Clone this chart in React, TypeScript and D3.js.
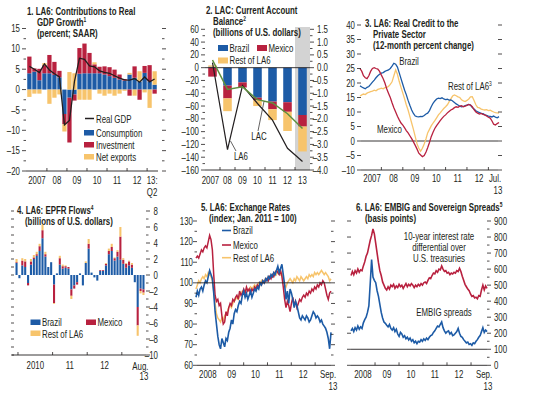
import React from "react";
import * as d3 from "d3";

const FONT = "'Liberation Sans',Arial,'DejaVu Sans',sans-serif";
const SX = 0.75;
const BLUE = "#1d5ba6";
const RED = "#b8213f";
const YELLOW = "#f7c46c";
const GREEN = "#5e8f3e";
const INK = "#231f20";
const SHADE = "#d3d3d3";

// ---------------- Panel 1 data ----------------
const p1Quarters = ["2007Q1","2007Q2","2007Q3","2007Q4","2008Q1","2008Q2","2008Q3","2008Q4","2009Q1","2009Q2","2009Q3","2009Q4","2010Q1","2010Q2","2010Q3","2010Q4","2011Q1","2011Q2","2011Q3","2011Q4","2012Q1","2012Q2","2012Q3","2012Q4","2013Q1","2013Q2"];
const p1Consumption = [4.0, 4.4, 2.3, 4.0, 4.0, 3.6, 3.0, -6.0, -2.0, -1.2, 3.9, 4.0, 4.0, 4.0, 4.0, 3.7, 3.3, 2.9, 2.5, 2.2, 3.7, 2.9, 2.0, 4.1, 2.0, 1.2];
const p1Investment = [4.1, 0.8, 2.8, 2.0, 4.5, 3.2, 1.6, -2.5, -11.0, -1.5, 6.3, 7.3, 5.0, 2.2, 1.6, 2.0, 2.2, 2.0, 1.2, 0.4, -1.5, 2.8, -2.5, 1.7, 4.0, -1.0];
const p1NetExports = [-1.8, -1.0, -1.0, 0.5, -3.5, -2.0, -1.2, -1.8, 4.3, 4.0, -2.5, -2.5, -2.5, 0.5, -1.0, -1.5, -1.0, -1.5, -1.0, -0.3, 0.4, -1.5, 2.5, -0.7, -4.5, 3.3];
const p1RealGDP = [5.7, 5.0, 4.2, 6.3, 4.8, 3.9, 3.1, -8.7, -7.6, 2.0, 7.7, 7.4, 5.8, 5.6, 4.6, 4.2, 4.0, 3.4, 2.8, 2.4, 2.3, 2.7, 1.8, 3.1, 1.9, 2.6];
const p1YearLabels = ["2007", "08", "09", "10", "11", "12", "13:"];

// ---------------- Panel 2 data ----------------
const p2Years = ["2007", "08", "09", "10", "11", "12", "13"];
const p2Brazil = [1.5, -28, -23, -47, -53, -54, -74];
const p2Mexico = [-14, -20, -8, -4, -12, -15, -18];
const p2Rest = [2, -20, 1, -9, -17, -30, -39];
const p2LA6 = [0.2, -3.2, -0.7, -1.4, -2.05, -3.15, -3.67];
const p2LAC = [0.3, -0.85, -0.75, -1.25, -1.38, -1.8, -2.38];

// ---------------- Panel 3 data (monthly, Jan 2007 - Jul 2013) ----------------
const p3Brazil = [19.0, 18.6, 18.3, 18.0, 18.5, 18.8, 19.5, 20.3, 21.0, 21.8, 22.5, 23.0, 23.4, 23.6, 24.0, 24.3, 24.5, 25.0, 25.8, 26.8, 26.5, 25.5, 23.5, 21.5, 19.5, 17.5, 16.0, 14.0, 12.3, 10.7, 9.5, 8.6, 8.4, 8.3, 8.5, 8.4, 8.8, 9.3, 9.6, 10.5, 11.8, 13.0, 13.8, 14.5, 14.8, 14.6, 14.9, 14.5, 14.3, 14.4, 14.1, 14.2, 13.8, 13.3, 12.8, 12.4, 12.0, 11.8, 11.9, 12.2, 12.4, 12.6, 12.4, 11.5, 11.0, 10.4, 10.1, 9.8, 9.5, 9.4, 9.0, 8.8, 8.6, 8.5, 8.3, 8.6, 8.2, 8.0, 8.4];
const p3Mexico = [25.0, 24.0, 22.5, 21.8, 21.5, 22.5, 24.0, 25.0, 25.3, 25.0, 24.8, 24.0, 22.7, 21.5, 20.0, 18.0, 16.5, 15.0, 13.2, 11.5, 10.0, 8.5, 7.3, 6.2, 5.5, 4.5, 3.6, 2.8, 1.8, 0.8, -0.3, -1.5, -2.8, -4.2, -4.8, -5.4, -5.0, -3.8, -2.3, -0.5, 1.5, 3.0, 4.3, 5.3, 6.2, 7.0, 7.8, 8.5, 9.0, 9.7, 10.2, 10.7, 11.0, 11.5, 11.8, 11.6, 12.0, 12.2, 11.8, 12.0, 12.3, 12.6, 12.4, 11.8, 10.8, 10.0, 9.6, 9.3, 9.5, 9.2, 9.0, 8.6, 8.2, 7.9, 7.0, 5.8, 5.5, 6.0, 6.4];
const p3Rest = [15.5, 15.9, 16.2, 16.0, 16.5, 16.8, 17.0, 17.2, 17.5, 17.3, 17.8, 18.0, 18.2, 18.0, 18.4, 18.5, 18.8, 19.5, 20.4, 22.5, 24.5, 23.0, 20.5, 18.5, 16.5, 14.5, 12.5, 10.7, 8.5, 6.2, 4.0, 1.5, -1.0, -2.5, -3.5, -2.5, -1.0, 0.8, 2.8, 4.0, 5.2, 6.2, 7.0, 8.0, 9.0, 9.7, 10.5, 11.2, 11.8, 12.5, 13.5, 14.5, 15.5, 15.9, 15.6, 15.2, 15.0, 14.2, 13.8, 13.6, 14.0, 14.5, 15.2, 15.3, 14.0, 12.5, 11.6, 11.4, 11.0, 10.8, 10.7, 10.8, 10.5, 10.6, 10.3, 10.0, 9.8, 9.7, 9.6];
const p3YearLabels = ["2007", "08", "09", "10", "11", "12"];

// ---------------- Panel 4 data (monthly, Dec 2009 - Aug 2013) ----------------
const p4Brazil = [1.5, -0.4, 1.2, 1.0, -1.0, 1.3, 2.0, 2.4, 3.0, 4.6, 2.3, 1.0, 1.6, -1.2, 0.2, 1.3, 0.8, 0.9, 0.8, -1.8, -1.3, -0.9, 0.2, -1.3, 1.5, 3.3, 0.3, -0.3, -0.7, 0.5, 0.5, 1.2, 2.6, 3.0, 1.8, 2.3, 1.9, 1.4, 0.9, 1.2, 0.9, -0.9, -4.0, -1.7, -1.8];
const p4Mexico = [0.1, 0, 0.6, 0.7, -0.3, 0.4, 0.2, 0.2, 0.6, 1.0, 0.3, 0, 0, -2.3, 0, 0.8, 0.3, 0.2, 0.2, -0.8, -0.4, -0.3, 0, 0, 0, 0.6, 0, 0, 0, 0.1, 0.1, 0.2, 0.4, 0.5, 0.3, 0.6, 2.9, 0.5, 0.5, 0.5, 0.4, 0, -2.3, -0.3, -0.4];
const p4Rest = [0.4, 0, 0.3, 0.3, 0, 0.3, 0.3, 0.3, 0.3, 0.7, 0.3, 0, 0, -0.1, 0, 0.3, 0.2, 0.1, 0, -0.4, 0, 0, 0, 0, 0.2, 0.6, 0, 0, 0, 0, 0, 0.1, 0.3, 0.4, 0.1, 0.2, 1.2, 0.2, 0.1, 0.1, 0.2, 0, -1.3, -0.3, -0.3];
const p4Months = ["2009-12","2010-01","2010-02","2010-03","2010-04","2010-05","2010-06","2010-07","2010-08","2010-09","2010-10","2010-11","2010-12","2011-01","2011-02","2011-03","2011-04","2011-05","2011-06","2011-07","2011-08","2011-09","2011-10","2011-11","2011-12","2012-01","2012-02","2012-03","2012-04","2012-05","2012-06","2012-07","2012-08","2012-09","2012-10","2012-11","2012-12","2013-01","2013-02","2013-03","2013-04","2013-05","2013-06","2013-07","2013-08"];

// ---------------- Panel 5 data (Jan 2008 - Sep 2013, 100 obs) ----------------
const p5Brazil = [93, 96, 94, 97, 98, 96, 99, 101, 100, 103, 106, 104, 102, 95, 86, 80, 74, 70, 68, 73, 71, 69, 73, 72, 76, 78, 82, 80, 85, 87, 86, 89, 91, 90, 94, 96, 93, 95, 92, 94, 96, 93, 95, 97, 96, 98, 97, 100, 99, 101, 100, 102, 101, 103, 102, 104, 103, 105, 104, 106, 108, 105, 107, 109, 104, 99, 92, 96, 90, 97, 95, 92, 88, 91, 89, 86, 83, 82, 84, 83, 82, 84, 83, 81, 82, 84, 86, 85, 83, 84, 83, 81, 82, 80, 79, 78, 76, 73, 68, 76];
const p5Mexico = [112, 113, 112, 114, 116, 115, 117, 118, 117, 120, 123, 121, 116, 104, 94, 91, 92, 89, 90, 84, 80, 81, 86, 84, 88, 90, 89, 92, 91, 93, 94, 92, 96, 94, 95, 97, 95, 98, 96, 97, 95, 97, 96, 98, 97, 99, 98, 100, 99, 101, 100, 101, 102, 101, 103, 102, 104, 103, 105, 106, 105, 104, 106, 103, 98, 92, 88, 91, 89, 86, 90, 93, 89, 91, 88, 90, 92, 91, 93, 94, 93, 95, 94, 96, 95, 97, 96, 98, 97, 99, 98, 100, 99, 101, 100, 97, 94, 92, 95, 96];
const p5Rest = [97, 99, 101, 100, 102, 103, 102, 104, 103, 105, 104, 103, 101, 96, 90, 85, 83, 82, 81, 83, 82, 84, 85, 86, 88, 89, 88, 90, 91, 92, 93, 92, 94, 95, 96, 96, 95, 97, 96, 97, 98, 97, 98, 99, 98, 99, 100, 99, 101, 100, 101, 102, 101, 103, 102, 103, 104, 103, 105, 104, 106, 105, 104, 105, 101, 99, 98, 100, 101, 102, 101, 100, 102, 101, 103, 102, 101, 103, 102, 101, 102, 103, 102, 104, 103, 104, 103, 105, 104, 105, 104, 105, 106, 105, 104, 105, 104, 103, 101, 102];
const p5YearLabels = ["2008", "09", "10", "11", "12"];

// ---------------- Panel 6 data (Jan 2008 - Sep 2013, 100 obs) ----------------
const p6Differential = [560, 585, 565, 590, 575, 600, 580, 595, 590, 620, 645, 680, 700, 740, 780, 810, 850, 820, 760, 700, 640, 590, 560, 520, 500, 480, 470, 490, 475, 500, 490, 505, 480, 495, 485, 505, 490, 500, 480, 495, 510, 490, 505, 495, 510, 500, 485, 500, 490, 505, 495, 510, 500, 515, 520, 510, 530, 545, 540, 560, 575, 570, 590, 580, 600, 595, 620, 600, 585, 590, 575, 580, 565, 575, 570, 580, 575, 590, 585, 605, 585, 555, 530, 505, 490, 475, 465, 445, 430, 435, 420, 425, 415, 435, 430, 470, 500, 470, 495, 480];
const p6EMBIG = [215, 230, 210, 235, 220, 245, 225, 240, 230, 265, 285, 300, 330, 370, 510, 660, 550, 530, 515, 465, 430, 380, 330, 295, 270, 262, 250, 240, 255, 230, 220, 235, 210, 225, 195, 180, 205, 195, 175, 185, 165, 175, 158, 170, 150, 160, 140, 150, 135, 150, 145, 160, 150, 165, 155, 170, 160, 175, 185, 190, 205, 215, 230, 245, 240, 255, 270, 235, 215, 200, 210, 215, 195, 205, 185, 190, 200, 210, 230, 200, 180, 175, 160, 150, 140, 145, 130, 135, 125, 140, 135, 150, 160, 175, 185, 210, 235, 205, 220, 210];
const p6YearLabels = ["2008", "09", "10", "11", "12"];

const fmt = (v: number, digits = 0) => (v < 0 ? "\u2013" : "") + Math.abs(v).toFixed(digits);

function evenDates(n: number, a: Date, b: Date) {
  return d3.range(n).map((i) => new Date(a.getTime() + ((b.getTime() - a.getTime()) * i) / (n - 1)));
}

// condensed text: regular sans compressed horizontally
function Txt({ x, y, anchor = "start", size = 10.5, weight = "normal", children }: any) {
  return (
    <text
      transform={`translate(${x},${y}) scale(${SX},1)`}
      textAnchor={anchor}
      fontSize={size}
      fontWeight={weight}
      fill={INK}
    >
      {children}
    </text>
  );
}

function Sup({ children }: any) {
  return (
    <tspan dy={-4} fontSize={6.5}>
      {children}
    </tspan>
  );
}

function YTicks({ scale, values, x, len, side, sw = 0.8 }: any) {
  return (
    <g>
      {values.map((v: number, i: number) => (
        <line key={i} x1={x} x2={side === "L" ? x - len : x + len} y1={scale(v)} y2={scale(v)} stroke={INK} strokeWidth={sw} />
      ))}
    </g>
  );
}

function YLabels({ scale, values, x, anchor, digits = 0 }: any) {
  return (
    <g>
      {values.map((v: number, i: number) => (
        <Txt key={i} x={x} y={scale(v) + 3.6} anchor={anchor} size={10.5}>
          {fmt(v, digits)}
        </Txt>
      ))}
    </g>
  );
}

function Title({ x, y, lines }: any) {
  return (
    <g>
      {lines.map((l: any, i: number) => (
        <Txt key={i} x={x + (l.dx || 0)} y={y + i * 11} size={10.5} weight="bold">
          {l.t}
          {l.sup ? <Sup>{l.sup}</Sup> : null}
        </Txt>
      ))}
    </g>
  );
}

function XLab({ x, y, children }: any) {
  return (
    <Txt x={x} y={y} anchor="middle" size={10.5}>
      {children}
    </Txt>
  );
}

// ---------------- Panel 1 ----------------
function Panel1() {
  const x = d3.scaleBand().domain(p1Quarters).range([27, 157]).paddingInner(0.15).paddingOuter(0.05);
  const y = d3.scaleLinear().domain([-20, 15]).range([171, 28.5]);
  const rows = p1Quarters.map((q, i) => ({ q, C: p1Consumption[i], I: p1Investment[i], N: p1NetExports[i] }));
  const series = d3.stack<any>().keys(["C", "I", "N"]).offset(d3.stackOffsetDiverging)(rows);
  const colors: any = { C: BLUE, I: RED, N: YELLOW };
  const bw = x.bandwidth();
  const gdpLine = d3
    .line<number>()
    .x((d, i) => (x(p1Quarters[i]) as number) + bw / 2)
    .y((d) => y(d));
  const step = x.step();
  const years = p1YearLabels.map((lab, k) => {
    const a = 4 * k;
    const b = Math.min(4 * k + 3, p1Quarters.length - 1);
    return { lab, cx: ((x(p1Quarters[a]) as number) + (x(p1Quarters[b]) as number) + bw) / 2, x0: (x(p1Quarters[a]) as number) - step * 0.075 };
  });
  const majors = d3.range(-20, 16, 5);
  const minors = d3.range(-17.5, 15, 5);
  return (
    <g>
      <Title x={27} y={15} lines={[{ t: "1. LA6: Contributions to Real" }, { t: "GDP Growth", sup: "1", dx: 10 }, { t: "(percent; SAAR)", dx: 10 }]} />
      {series.map((s: any) => (
        <g key={s.key} fill={colors[s.key]}>
          {s.map((d: any, i: number) => (
            <rect key={i} x={x(d.data.q)} width={bw} y={y(Math.max(d[0], d[1]))} height={Math.abs(y(d[0]) - y(d[1]))} />
          ))}
        </g>
      ))}
      <path d={gdpLine(p1RealGDP) as string} fill="none" stroke={INK} strokeWidth={1.3} />
      <YTicks scale={y} values={majors} x={26} len={4} side="L" />
      <YTicks scale={y} values={minors} x={26} len={2.5} side="L" />
      <YTicks scale={y} values={majors} x={162} len={4} side="R" />
      <YTicks scale={y} values={minors} x={162} len={2.5} side="R" />
      <YLabels scale={y} values={majors} x={20} anchor="end" />
      <line x1={26} x2={158} y1={y(-20)} y2={y(-20)} stroke={INK} strokeWidth={0.9} />
      {years.slice(1).map((yy, i) => (
        <line key={i} x1={yy.x0} x2={yy.x0} y1={y(-20)} y2={y(-20) - 3} stroke={INK} strokeWidth={0.8} />
      ))}
      {years.map((yy, i) => (
        <XLab key={i} x={yy.cx} y={183.5}>
          {yy.lab}
        </XLab>
      ))}
      <XLab x={years[6].cx} y={196}>Q2</XLab>
      <line x1={85} x2={94} y1={118.5} y2={118.5} stroke={INK} strokeWidth={1.5} />
      <Txt x={96} y={122.5}>Real GDP</Txt>
      <rect x={84} y={130} width={10} height={5.5} fill={BLUE} />
      <Txt x={96} y={136.5}>Consumption</Txt>
      <rect x={84} y={142} width={10} height={5.5} fill={RED} />
      <Txt x={96} y={148.5}>Investment</Txt>
      <rect x={84} y={154} width={10} height={5.5} fill={YELLOW} />
      <Txt x={96} y={160.5}>Net exports</Txt>
    </g>
  );
}

// ---------------- Panel 2 ----------------
function Panel2() {
  const x = d3.scaleBand().domain(p2Years).range([205, 310]).paddingInner(0.43).paddingOuter(0.215);
  const yL = d3.scaleLinear().domain([-160, 60]).range([170, 29.3]);
  const yR = d3.scaleLinear().domain([-4, 1.5]).range([170, 29.3]);
  const rows = p2Years.map((yr, i) => ({ yr, B: p2Brazil[i], M: p2Mexico[i], R: p2Rest[i] }));
  const series = d3.stack<any>().keys(["B", "M", "R"]).offset(d3.stackOffsetDiverging)(rows);
  const colors: any = { B: BLUE, M: RED, R: YELLOW };
  const bw = x.bandwidth();
  const step = x.step();
  const cx = (yr: string) => (x(yr) as number) + bw / 2;
  const ln = d3
    .line<number>()
    .x((d, i) => cx(p2Years[i]))
    .y((d) => yR(d));
  const lastStart = cx(p2Years[6]) - step / 2;
  return (
    <g>
      <rect x={lastStart} y={27} width={310 - lastStart} height={170 - 27} fill={SHADE} />
      <Title x={206} y={13.5} lines={[{ t: "2. LAC: Current Account" }, { t: "Balance", sup: "2", dx: 7 }, { t: "(billions of U.S. dollars)", dx: 7 }]} />
      <rect x={218} y={45} width={10} height={6} fill={BLUE} />
      <Txt x={229.5} y={51.5}>Brazil</Txt>
      <rect x={257} y={45} width={10} height={6} fill={RED} />
      <Txt x={268.5} y={51.5}>Mexico</Txt>
      <rect x={218} y={57.5} width={10} height={6} fill={YELLOW} />
      <Txt x={229.5} y={63.5}>Rest of LA6</Txt>
      {series.map((s: any) => (
        <g key={s.key} fill={colors[s.key]}>
          {s.map((d: any, i: number) => (
            <rect key={i} x={x(d.data.yr)} width={bw} y={yL(Math.max(d[0], d[1]))} height={Math.abs(yL(d[0]) - yL(d[1]))} />
          ))}
        </g>
      ))}
      <line x1={205} x2={310} y1={yL(0)} y2={yL(0)} stroke={INK} strokeWidth={0.9} />
      <path d={ln(p2LA6) as string} fill="none" stroke={INK} strokeWidth={1.2} />
      <path d={ln(p2LAC) as string} fill="none" stroke={GREEN} strokeWidth={1.5} />
      <YTicks scale={yL} values={d3.range(-160, 61, 20)} x={205} len={4} side="L" />
      <YTicks scale={yL} values={d3.range(-150, 60, 20)} x={205} len={2.5} side="L" />
      <YLabels scale={yL} values={d3.range(-160, 61, 20)} x={199} anchor="end" />
      <YTicks scale={yR} values={d3.range(-4, 1.51, 0.5)} x={310} len={4} side="R" />
      <YTicks scale={yR} values={d3.range(-3.75, 1.5, 0.5)} x={310} len={2.5} side="R" />
      <YLabels scale={yR} values={d3.range(-4, 1.51, 0.5)} x={328} anchor="end" digits={1} />
      <line x1={205} x2={310} y1={170} y2={170} stroke={INK} strokeWidth={0.9} />
      {p2Years.slice(1).map((yr, i) => (
        <line key={i} x1={cx(yr) - step / 2} x2={cx(yr) - step / 2} y1={170} y2={167} stroke={INK} strokeWidth={0.8} />
      ))}
      {p2Years.map((yr, i) => (
        <XLab key={i} x={cx(yr) - (i === 0 ? 2 : 0)} y={183.5}>
          {yr}
        </XLab>
      ))}
      <line x1={258} x2={264} y1={131} y2={yR(-1.32)} stroke={INK} strokeWidth={0.7} />
      <Txt x={259} y={139.5} anchor="middle">LAC</Txt>
      <line x1={236} x2={230.5} y1={151} y2={141} stroke={INK} strokeWidth={0.7} />
      <Txt x={241} y={160} anchor="middle">LA6</Txt>
    </g>
  );
}

// ---------------- Panel 3 ----------------
function Panel3() {
  const start = new Date(2007, 0, 1);
  const end = new Date(2013, 6, 1);
  const x = d3.scaleTime().domain([start, end]).range([360, 499]);
  const y = d3.scaleLinear().domain([-10, 40]).range([170, 25]);
  const dates = p3Brazil.map((_, i) => new Date(2007, i, 1));
  const ln = d3
    .line<number>()
    .x((d, i) => x(dates[i]))
    .y((d) => y(d));
  const majors = d3.range(-10, 41, 5);
  return (
    <g>
      <line x1={361} x2={498} y1={y(0)} y2={y(0)} stroke={INK} strokeWidth={0.9} />
      <path d={ln(p3Rest) as string} fill="none" stroke={YELLOW} strokeWidth={1.3} />
      <path d={ln(p3Brazil) as string} fill="none" stroke={BLUE} strokeWidth={1.3} />
      <path d={ln(p3Mexico) as string} fill="none" stroke={RED} strokeWidth={1.3} />
      <Title x={365} y={26.5} lines={[{ t: "3. LA6: Real Credit to the" }, { t: "Private Sector", dx: 8 }, { t: "(12-month percent change)", dx: 8 }]} />
      <YTicks scale={y} values={majors} x={361} len={4} side="L" />
      <YTicks scale={y} values={majors} x={498} len={4} side="R" />
      <YLabels scale={y} values={majors} x={355} anchor="end" />
      <line x1={361} x2={498} y1={170} y2={170} stroke={INK} strokeWidth={0.9} />
      {d3.range(2008, 2014).map((yr) => (
        <line key={yr} x1={x(new Date(yr, 0, 1))} x2={x(new Date(yr, 0, 1))} y1={170} y2={167} stroke={INK} strokeWidth={0.8} />
      ))}
      {p3YearLabels.map((lab, i) => (
        <XLab key={i} x={x(new Date(2007 + i, 6, 1)) + 1.5} y={182}>
          {lab}
        </XLab>
      ))}
      <XLab x={x(end) - 4} y={182}>Jul.</XLab>
      <XLab x={x(end) - 1} y={193.5}>13</XLab>
      <Txt x={409} y={64.5} anchor="middle">Brazil</Txt>
      <Txt x={448} y={89.5}>
        Rest of LA6<Sup>3</Sup>
      </Txt>
      <Txt x={377} y={133}>Mexico</Txt>
    </g>
  );
}

// ---------------- Panel 4 ----------------
function Panel4() {
  const x = d3.scaleBand().domain(p4Months).range([15.5, 144.5]).paddingInner(0.28);
  const y = d3.scaleLinear().domain([-10, 8]).range([355, 211]);
  const rows = p4Months.map((m, i) => ({ m, B: p4Brazil[i], M: p4Mexico[i], R: p4Rest[i] }));
  const series = d3.stack<any>().keys(["B", "M", "R"]).offset(d3.stackOffsetDiverging)(rows);
  const colors: any = { B: BLUE, M: RED, R: YELLOW };
  const bw = x.bandwidth();
  const step = x.step();
  const cx = (m: string) => (x(m) as number) + bw / 2;
  const yearCenter = (yr: number) => (cx(`${yr}-01`) + cx(`${yr}-12`)) / 2;
  const last = p4Months[p4Months.length - 1];
  return (
    <g>
      <Title x={17} y={214} lines={[{ t: "4. LA6: EPFR Flows", sup: "4" }, { t: "(billions of U.S. dollars)", dx: 8 }]} />
      {series.map((s: any) => (
        <g key={s.key} fill={colors[s.key]}>
          {s.map((d: any, i: number) => (
            <rect key={i} x={x(d.data.m)} width={bw} y={y(Math.max(d[0], d[1]))} height={Math.abs(y(d[0]) - y(d[1]))} />
          ))}
        </g>
      ))}
      <YTicks scale={y} values={d3.range(-10, 9, 1)} x={14} len={3} side="L" />
      <YTicks scale={y} values={d3.range(-10, 9, 2)} x={146} len={4} side="R" />
      <YTicks scale={y} values={d3.range(-9, 8, 2)} x={146} len={2.5} side="R" />
      <YLabels scale={y} values={d3.range(-10, 9, 2)} x={158} anchor="end" />
      <line x1={12} x2={146} y1={355} y2={355} stroke={INK} strokeWidth={0.9} />
      {[2010, 2011, 2012, 2013].map((yr) => (
        <line key={yr} x1={cx(`${yr}-01`) - step / 2} x2={cx(`${yr}-01`) - step / 2} y1={355} y2={352} stroke={INK} strokeWidth={0.8} />
      ))}
      {[2010, 2011, 2012].map((yr, i) => (
        <XLab key={yr} x={yearCenter(yr)} y={368.5}>
          {i === 0 ? "2010" : String(yr).slice(2)}
        </XLab>
      ))}
      <XLab x={cx(last) - 3} y={369.5}>Aug.</XLab>
      <XLab x={cx(last) + 0.5} y={380}>13</XLab>
      <rect x={30.5} y={319.5} width={10} height={5.5} fill={BLUE} />
      <Txt x={42} y={326}>Brazil</Txt>
      <rect x={86} y={319.5} width={10} height={5.5} fill={RED} />
      <Txt x={97.5} y={326}>Mexico</Txt>
      <rect x={30.5} y={330.5} width={10} height={5.5} fill={YELLOW} />
      <Txt x={42} y={337.5}>Rest of LA6</Txt>
    </g>
  );
}

// ---------------- Panel 5 ----------------
function Panel5() {
  const start = new Date(2008, 0, 1);
  const end = new Date(2013, 8, 1);
  const x = d3.scaleTime().domain([start, end]).range([196, 331]);
  const y = d3.scaleLinear().domain([60, 130]).range([365.3, 221]);
  const dates = evenDates(p5Brazil.length, start, end);
  const ln = d3
    .line<number>()
    .x((d, i) => x(dates[i]))
    .y((d) => y(d));
  const majors = d3.range(60, 131, 10);
  const minors = d3.range(65, 130, 10);
  return (
    <g>
      <Title x={201} y={211} lines={[{ t: "5. LA6: Exchange Rates" }, { t: "(index; Jan. 2011 = 100)", dx: 8 }]} />
      <path d={ln(p5Rest) as string} fill="none" stroke={YELLOW} strokeWidth={1.5} />
      <path d={ln(p5Mexico) as string} fill="none" stroke={RED} strokeWidth={1.5} />
      <path d={ln(p5Brazil) as string} fill="none" stroke={BLUE} strokeWidth={1.6} />
      <line x1={197} x2={331} y1={y(100)} y2={y(100)} stroke={INK} strokeWidth={0.9} />
      <YTicks scale={y} values={majors} x={197} len={4} side="L" />
      <YTicks scale={y} values={minors} x={197} len={2.5} side="L" />
      <YTicks scale={y} values={majors} x={331} len={4} side="R" />
      <YTicks scale={y} values={minors} x={331} len={2.5} side="R" />
      <YLabels scale={y} values={majors} x={193} anchor="end" />
      <line x1={197} x2={331} y1={365.3} y2={365.3} stroke={INK} strokeWidth={0.9} />
      {d3.range(2009, 2014).map((yr) => (
        <line key={yr} x1={x(new Date(yr, 0, 1))} x2={x(new Date(yr, 0, 1))} y1={365.3} y2={362.3} stroke={INK} strokeWidth={0.8} />
      ))}
      {p5YearLabels.map((lab, i) => (
        <XLab key={i} x={x(new Date(2008 + i, 6, 1))} y={378}>
          {lab}
        </XLab>
      ))}
      <XLab x={x(end) - 3} y={378}>Sep.</XLab>
      <XLab x={x(end) + 2} y={389.5}>13</XLab>
      <line x1={222} x2={231} y1={230.5} y2={230.5} stroke={BLUE} strokeWidth={1.6} />
      <Txt x={233} y={234}>Brazil</Txt>
      <line x1={222} x2={231} y1={245} y2={245} stroke={RED} strokeWidth={1.6} />
      <Txt x={233} y={248.5}>Mexico</Txt>
      <line x1={222} x2={231} y1={257.7} y2={257.7} stroke={YELLOW} strokeWidth={1.6} />
      <Txt x={233} y={261.5}>Rest of LA6</Txt>
    </g>
  );
}

// ---------------- Panel 6 ----------------
function Panel6() {
  const start = new Date(2008, 0, 1);
  const end = new Date(2013, 8, 1);
  const x = d3.scaleTime().domain([start, end]).range([351, 487]);
  const y = d3.scaleLinear().domain([0, 900]).range([365.3, 221]);
  const dates = evenDates(p6EMBIG.length, start, end);
  const ln = d3
    .line<number>()
    .x((d, i) => x(dates[i]))
    .y((d) => y(d));
  const majors = d3.range(0, 901, 100);
  const minors = d3.range(50, 900, 100);
  return (
    <g>
      <Title x={356} y={211} lines={[{ t: "6. LA6: EMBIG and Sovereign Spreads", sup: "5" }, { t: "(basis points)", dx: 9 }]} />
      <path d={ln(p6Differential) as string} fill="none" stroke={RED} strokeWidth={1.6} />
      <path d={ln(p6EMBIG) as string} fill="none" stroke={BLUE} strokeWidth={1.6} />
      <line x1={351} x2={487} y1={y(100)} y2={y(100)} stroke={INK} strokeWidth={0.9} />
      <YTicks scale={y} values={majors} x={351} len={4} side="L" />
      <YTicks scale={y} values={majors} x={487} len={4} side="R" />
      <YTicks scale={y} values={minors} x={487} len={2.5} side="R" />
      <YLabels scale={y} values={majors} x={494} anchor="start" />
      <line x1={351} x2={487} y1={365.3} y2={365.3} stroke={INK} strokeWidth={0.9} />
      {d3.range(2009, 2014).map((yr) => (
        <line key={yr} x1={x(new Date(yr, 0, 1))} x2={x(new Date(yr, 0, 1))} y1={365.3} y2={362.3} stroke={INK} strokeWidth={0.8} />
      ))}
      {p6YearLabels.map((lab, i) => (
        <XLab key={i} x={x(new Date(2008 + i, 6, 1))} y={378}>
          {lab}
        </XLab>
      ))}
      <XLab x={x(end) - 3} y={378}>Sep.</XLab>
      <XLab x={x(end) + 1} y={389.5}>13</XLab>
      <Txt x={439} y={239.5} anchor="middle">10-year interest rate</Txt>
      <Txt x={439} y={250.5} anchor="middle">differential over</Txt>
      <Txt x={439} y={261.5} anchor="middle">U.S. treasuries</Txt>
      <Txt x={444} y={316} anchor="middle">EMBIG spreads</Txt>
    </g>
  );
}

export default function App() {
  return (
    <svg
      width={543}
      height={396}
      viewBox="0 0 543 396"
      style={{ position: "absolute", left: 0, top: 0, background: "#fff" }}
      fontFamily={FONT}
    >
      <rect width={543} height={396} fill="#fff" />
      <Panel1 />
      <Panel2 />
      <Panel3 />
      <Panel4 />
      <Panel5 />
      <Panel6 />
    </svg>
  );
}
